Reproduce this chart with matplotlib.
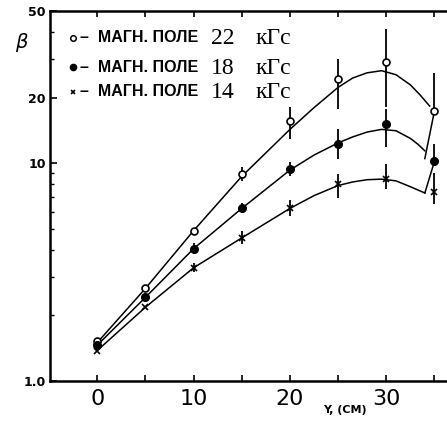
import numpy as np
import matplotlib
matplotlib.use('Agg')
import matplotlib.pyplot as plt
from matplotlib.ticker import FixedLocator, NullFormatter

# точки измерений
y_cm = [0, 5, 10, 15, 20, 25, 30, 35]

beta_22 = [1.52, 2.66, 4.9, 8.9, 15.7, 24.4, 29.2, 17.4]
hi_22 = [1.52, 2.66, 4.9, 9.6, 18.1, 30.2, 41.3, 26.0]
lo_22 = [1.52, 2.66, 4.9, 8.3, 12.9, 17.8, 18.2, 17.4]

beta_18 = [1.46, 2.42, 4.05, 6.23, 9.4, 12.2, 15.1, 10.2]
hi_18 = [1.46, 2.42, 4.3, 6.6, 10.1, 14.3, 17.8, 12.2]
lo_18 = [1.46, 2.42, 3.85, 5.9, 8.7, 10.5, 11.9, 10.2]

beta_14 = [1.38, 2.18, 3.31, 4.54, 6.2, 8.0, 8.45, 7.37]
hi_14 = [1.38, 2.18, 3.5, 4.9, 6.8, 8.9, 9.9, 9.0]
lo_14 = [1.38, 2.18, 3.15, 4.25, 5.7, 6.9, 7.6, 6.5]

# сглаженные кривые
curve_x_22 = [0, 5, 10, 15, 20, 22.5, 25, 26.5, 28, 29.5, 31, 32.5, 33.5, 34.5]
curve_22 = [1.5, 2.66, 4.9, 8.7, 14.3, 18.0, 22.3, 24.6, 26.0, 26.6, 25.5, 22.9, 20.6, 18.3]
curve_x_18 = [0, 5, 10, 15, 20, 22.5, 25, 26.5, 28, 29.5, 31, 32.5, 33.3, 34]
curve_18 = [1.46, 2.42, 4.05, 6.2, 9.3, 10.9, 12.4, 13.2, 13.9, 14.3, 14.1, 13.0, 12.2, 11.4]
curve_x_14 = [0, 5, 10, 15, 20, 22.5, 25, 26.5, 28, 29.5, 31, 32.5, 34]
curve_14 = [1.38, 2.18, 3.31, 4.54, 6.2, 7.1, 7.9, 8.2, 8.4, 8.45, 8.3, 7.8, 7.3]

# наклонные хвосты ошибок у последней точки
tail_x = [[35, 34.0], [35, 34.0]]
tail_y = [[17.4, 10.5], [10.2, 7.3]]

legend_vals = ['22', '18', '14']

fig = plt.figure(figsize=(4.47, 4.21), dpi=100)
ax = fig.add_axes([50/447, 1-381/421, 1-50/447, 370/421])

lw = 1.1
for cx, cy in [(curve_x_22, curve_22), (curve_x_18, curve_18), (curve_x_14, curve_14)]:
    ax.plot(cx, cy, color='black', lw=lw)

for tx, ty in zip(tail_x, tail_y):
    ax.plot(tx, ty, color='black', lw=lw)

styles = [dict(marker='o', ms=5, mfc='white', mec='black', mew=1.2),
          dict(marker='o', ms=5.5, mfc='black', mec='black'),
          dict(marker='x', ms=4, mec='black', mew=1.2)]
series = [(beta_22, lo_22, hi_22), (beta_18, lo_18, hi_18), (beta_14, lo_14, hi_14)]
for (b, lo, hi), st in zip(series, styles):
    b = np.array(b)
    yerr = [b - np.array(lo), np.array(hi) - b]
    ax.errorbar(y_cm, b, yerr=yerr, fmt='none', ecolor='black', elinewidth=1.3, capsize=0)
    ax.plot(y_cm, b, ls='none', zorder=5, **st)

ax.set_yscale('log')
ax.set_ylim(1.0, 50)
ax.set_xlim(-4.9, 36.3)

ax.yaxis.set_major_locator(FixedLocator([1, 10, 20, 50]))
ax.yaxis.set_minor_locator(FixedLocator([2, 3, 4, 5, 6, 7, 8, 9, 30, 40]))
ax.yaxis.set_minor_formatter(NullFormatter())
ax.set_yticklabels(['1.0', '10', '20', '50'], fontsize=9, fontweight='bold')

ax.set_xticks([0, 5, 10, 15, 20, 25, 30, 35])
ax.set_xticklabels(['0', '', '10', '', '20', '', '30', ''], fontsize=16)

ax.tick_params(axis='both', which='both', direction='in', top=True, right=False)
ax.tick_params(axis='y', which='major', length=5, width=1.2, pad=3)
ax.tick_params(axis='y', which='minor', length=3, width=1)
ax.tick_params(axis='x', length=4, width=1.2, pad=6)

for s in ['left', 'bottom', 'top']:
    ax.spines[s].set_linewidth(1.8)
ax.spines['right'].set_visible(False)

# подписи осей
fig.text(22/447, 1-42/421, r'$\beta$', fontsize=14, ha='center', va='center', family='DejaVu Serif')
fig.text(345/447, 1-410/421, 'Y, (CM)', fontsize=8, fontweight='bold', ha='center', va='center')

# легенда
row_y = [38, 67, 92]
leg_styles = [dict(marker='o', ms=4, mfc='white', mec='black', mew=1.1),
              dict(marker='o', ms=4.5, mfc='black', mec='black'),
              dict(marker='x', ms=3.5, mec='black', mew=1.2)]
for yp, val, st in zip(row_y, legend_vals, leg_styles):
    ax.plot([(73-50)/397], [1-(yp-11)/370], transform=ax.transAxes, clip_on=False, **st)
    fig.text(80/447, 1-yp/421, '–  МАГН. ПОЛЕ', fontsize=11.5, fontweight='bold',
             family='Liberation Sans', ha='left', va='center')
    fig.text(211/447, 1-(yp+1)/421, val, fontsize=17, family='Liberation Serif',
             ha='left', va='center')
    fig.text(256/447, 1-(yp+1)/421, 'кГс', fontsize=17, family='Liberation Serif',
             ha='left', va='center')

fig.savefig('out.png', dpi=100)
